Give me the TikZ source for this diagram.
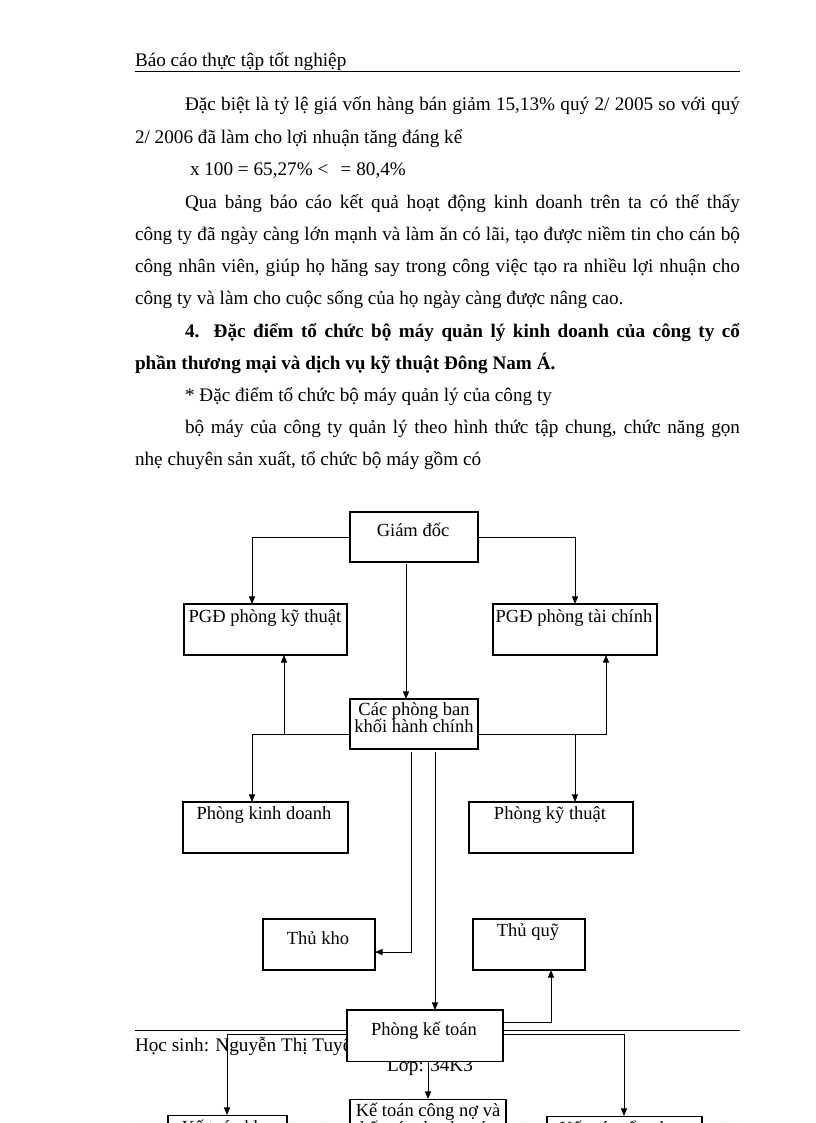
\documentclass[tikz,border=0pt]{standalone}
\usepackage{fontspec}
\setmainfont{Liberation Serif}
\usetikzlibrary{arrows.meta,calc,fit}
\newdimen\pxu \pxu=0.7295pt
\begin{document}
\begin{tikzpicture}[x=0.7295pt, y=-0.7295pt,
  body/.style={inner sep=0pt, outer sep=0pt, font=\fontsize{14}{16}\selectfont},
  lbl/.style={inner sep=0pt, outer sep=0pt, font=\fontsize{13.5}{16}\selectfont, align=center},
  box/.style={draw, line width=0.75pt, fill=white, inner sep=0pt, outer sep=0pt},
  arr/.style={-{Triangle[length=5.5pt,width=4.4pt]}, line width=0.65pt},
  link/.style={line width=0.65pt}]
\fill[white] (0,0) rectangle (816,1123);
\useasboundingbox (0,0) rectangle (816,1123);
\clip (0,0) rectangle (816,1123);

% header
\node[body, anchor=base west] (hdr) at (135,66) {Báo cáo thực tập tốt nghiệp};
\coordinate (hl1) at (135,71);
\coordinate (hl2) at (740,71);
\draw[link] (hl1) -- (hl2);

% body text
\node[body, anchor=base west] (l1) at (185,110) {\makebox[555\pxu][s]{Đặc biệt là tỷ lệ giá vốn hàng bán giảm 15,13\% quý 2/ 2005 so với quý}};
\node[body, anchor=base west] (l2) at (135,143) {2/ 2006 đã làm cho lợi nhuận tăng đáng kể};
\node[body, anchor=base west] (l3) at (190,175) {x 100 = 65,27\% <\hspace{9pt}= 80,4\%};
\node[body, anchor=base west] (l4) at (185,208) {\makebox[555\pxu][s]{Qua bảng báo cáo kết quả hoạt động kinh doanh trên ta có thể thấy}};
\node[body, anchor=base west] (l5) at (135,240) {\makebox[605\pxu][s]{công ty đã ngày càng lớn mạnh và làm ăn có lãi, tạo được niềm tin cho cán bộ}};
\node[body, anchor=base west] (l6) at (135,272) {\makebox[605\pxu][s]{công nhân viên, giúp họ hăng say trong công việc tạo ra nhiều lợi nhuận cho}};
\node[body, anchor=base west] (l7) at (135,304) {công ty và làm cho cuộc sống của họ ngày càng được nâng cao.};
\node[body, anchor=base west] (l8) at (185,337) {\bfseries\makebox[555\pxu][s]{4. Đặc điểm tổ chức bộ máy quản lý kinh doanh của công ty cổ}};
\node[body, anchor=base west] (l9) at (135,369) {\bfseries phần thương mại và dịch vụ kỹ thuật Đông Nam Á.};
\node[body, anchor=base west] (l10) at (185,401) {* Đặc điểm tổ chức bộ máy quản lý của công ty};
\node[body, anchor=base west] (l11) at (185,433) {\makebox[555\pxu][s]{bộ máy của công ty quản lý theo hình thức tập chung, chức năng gọn}};
\node[body, anchor=base west] (l12) at (135,465) {nhẹ chuyên sản xuất, tổ chức bộ máy gồm có};

% footer
\coordinate (fl1) at (135,1030);
\coordinate (fl2) at (740,1030);
\draw[link] (fl1) -- (fl2);
\node[body, anchor=base west] (ftr) at (135,1051) {Học sinh: Nguyễn Thị Tuyết};
\node[body, anchor=base] (lop) at (430,1071) {Lớp: 34K3};
\coordinate (pd1) at (135,1121);
\coordinate (pd2) at (740,1121);
\draw[pink!70, dotted, line width=0.6pt] (pd1) -- (pd2);

% boxes
\node[box, fit={(350,512) (478,562)}] (gd) {};
\node[box, fit={(184,604) (347,655)}] (pk) {};
\node[box, fit={(493,604) (657,655)}] (pt) {};
\node[box, fit={(350,699) (478,749)}] (cp) {};
\node[box, fit={(183,802) (348,853)}] (pkd) {};
\node[box, fit={(469,802) (633,853)}] (pkt) {};
\node[box, fit={(263,919) (375,970)}] (tk) {};
\node[box, fit={(473,919) (585,970)}] (tq) {};
\node[box, fit={(347,1010) (503,1061)}] (kt) {};
\node[box, fit={(168,1115) (287,1175)}] (kl) {};
\node[box, fit={(350,1099) (506,1160)}] (kc) {};
\node[box, fit={(547,1116) (702,1175)}] (kr) {};

% box texts
\node[lbl, anchor=base] (tgd) at (413,536) {Giám đốc};
\node[lbl, anchor=base] (tpk) at (265,622) {PGĐ phòng kỹ thuật};
\node[lbl, anchor=base] (tpt) at (574,622) {PGĐ phòng tài chính};
\node[lbl, anchor=base] (tcp1) at (414,715) {Các phòng ban};
\node[lbl, anchor=base] (tcp2) at (414,732) {khối hành chính};
\node[lbl, anchor=base] (tpkd) at (264,819) {Phòng kinh doanh};
\node[lbl, anchor=base] (tpkt) at (550,819) {Phòng kỹ thuật};
\node[lbl, anchor=base] (ttk) at (318,944) {Thủ kho};
\node[lbl, anchor=base] (ttq) at (528,936) {Thủ quỹ};
\node[lbl, anchor=base] (tkt) at (424,1035) {Phòng kế toán};
\node[lbl, anchor=base] (tkc1) at (428,1116) {Kế toán công nợ và};
\node[lbl, anchor=base] (tkc2) at (428,1134) {kế toán thanh toán};
\node[lbl, anchor=base] (tkl) at (227,1133) {Kế toán kho};
\node[lbl, anchor=base] (tkr) at (624,1134) {Kế toán tổng hợp};

% connectors
\draw[arr] (gd.west) -| ($(pk.north west)+(68,0)$);
\draw[arr] (gd.east) -| ($(pt.north west)+(82,0)$);
\draw[arr] ($(gd.south west)+(56,2)$) -- ($(cp.north west)+(56,0)$);

\coordinate (cl) at ($(cp.west)+(0,10)$);
\coordinate (cr) at ($(cp.east)+(0,10)$);
\coordinate (pkb) at ($(pk.south west)+(100,0)$);
\coordinate (ptb) at ($(pt.south west)+(113,0)$);
\coordinate (pkdt) at ($(pkd.north west)+(69,0)$);
\coordinate (pktt) at ($(pkt.north west)+(106,0)$);
\draw[arr] (cl) -| (pkdt);
\draw[arr] (pkb |- cl) -- (pkb);
\draw[arr] (cr) -| (ptb);
\draw[arr] (pktt |- cr) -- (pktt);

\coordinate (c1) at ($(cp.south west)+(61,3)$);
\coordinate (tke) at ($(tk.east)+(0,7.5)$);
\draw[arr] (c1) |- (tke);
\draw[arr] ($(cp.south west)+(85,3)$) -- ($(kt.north west)+(88,0)$);

\coordinate (ktr1) at ($(kt.east)+(0,-13.5)$);
\coordinate (tqb) at ($(tq.south west)+(78,0)$);
\draw[arr] (ktr1) -| (tqb);
\draw[arr] ($(kt.east)+(0,-1.5)$) -| ($(kr.north west)+(77,0)$);
\draw[arr] ($(kt.west)+(0,-1.5)$) -| ($(kl.north west)+(59,0)$);
\draw[arr] ($(kt.south west)+(81,0)$) -- ($(kc.north west)+(78,0)$);
\end{tikzpicture}
\end{document}
